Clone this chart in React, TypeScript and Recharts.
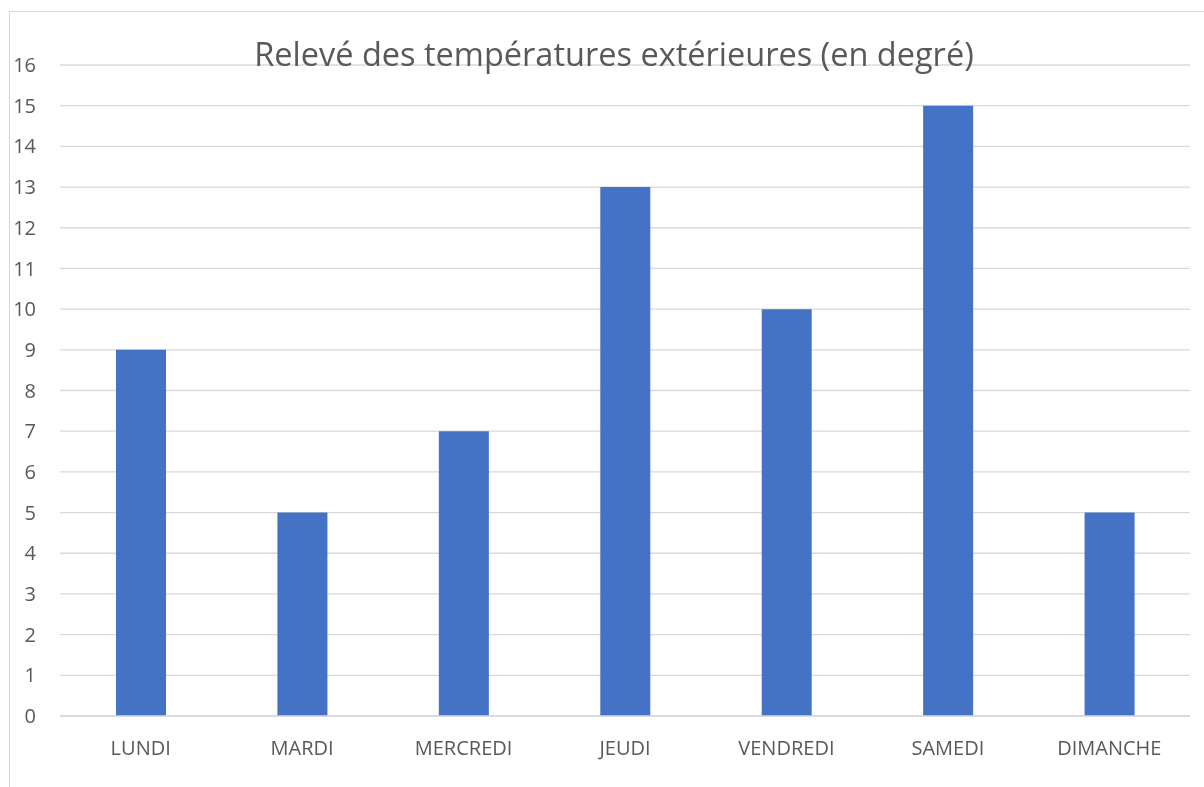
import { Bar, BarChart, CartesianGrid, XAxis, YAxis } from "recharts";

const days = ["LUNDI", "MARDI", "MERCREDI", "JEUDI", "VENDREDI", "SAMEDI", "DIMANCHE"];
const temperatures = [9, 5, 7, 13, 10, 15, 5];
const yTicks = [0, 1, 2, 3, 4, 5, 6, 7, 8, 9, 10, 11, 12, 13, 14, 15, 16];

const data = days.map((day, i) => ({ day, temp: temperatures[i] }));

const FONT = "'Open Sans', Lato, sans-serif";
const TEXT = "#595959";
const GRID = "#d9d9d9";

export default function App() {
  return (
    <>
      <div
        style={{
          position: "fixed",
          left: 9,
          top: 11,
          width: 1260,
          height: 840,
          border: `1px solid ${GRID}`,
          boxSizing: "border-box",
        }}
      />
      <div
        style={{
          position: "fixed",
          left: 0,
          top: 0,
          width: 1204,
          height: 787,
          fontFamily: FONT,
        }}
      >
        <div
          style={{
            position: "absolute",
            left: 0,
            top: 32,
            width: 1228,
            textAlign: "center",
            fontSize: 32.5,
            color: TEXT,
            lineHeight: "44px",
            zIndex: 2,
          }}
        >
          Relevé des températures extérieures (en degré)
        </div>
        <BarChart
          width={1204}
          height={787}
          data={data}
          margin={{ top: 65, right: 14, bottom: 0, left: 0 }}
          barCategoryGap={0}
        >
          <CartesianGrid vertical={false} stroke={GRID} strokeWidth={1.3} />
          <XAxis
            dataKey="day"
            height={71}
            axisLine={{ stroke: GRID, strokeWidth: 1.3 }}
            tickLine={false}
            tickSize={0}
            tickMargin={25}
            tick={{ fill: TEXT, fontSize: 20, fontFamily: FONT }}
            interval={0}
          />
          <YAxis
            width={60}
            domain={[0, 16]}
            ticks={yTicks}
            interval={0}
            axisLine={false}
            tickLine={false}
            tickSize={0}
            tickMargin={24}
            tick={{ fill: TEXT, fontSize: 20, fontFamily: FONT }}
          />
          <Bar dataKey="temp" fill="#4472C4" barSize={50} isAnimationActive={false} />
        </BarChart>
      </div>
    </>
  );
}
